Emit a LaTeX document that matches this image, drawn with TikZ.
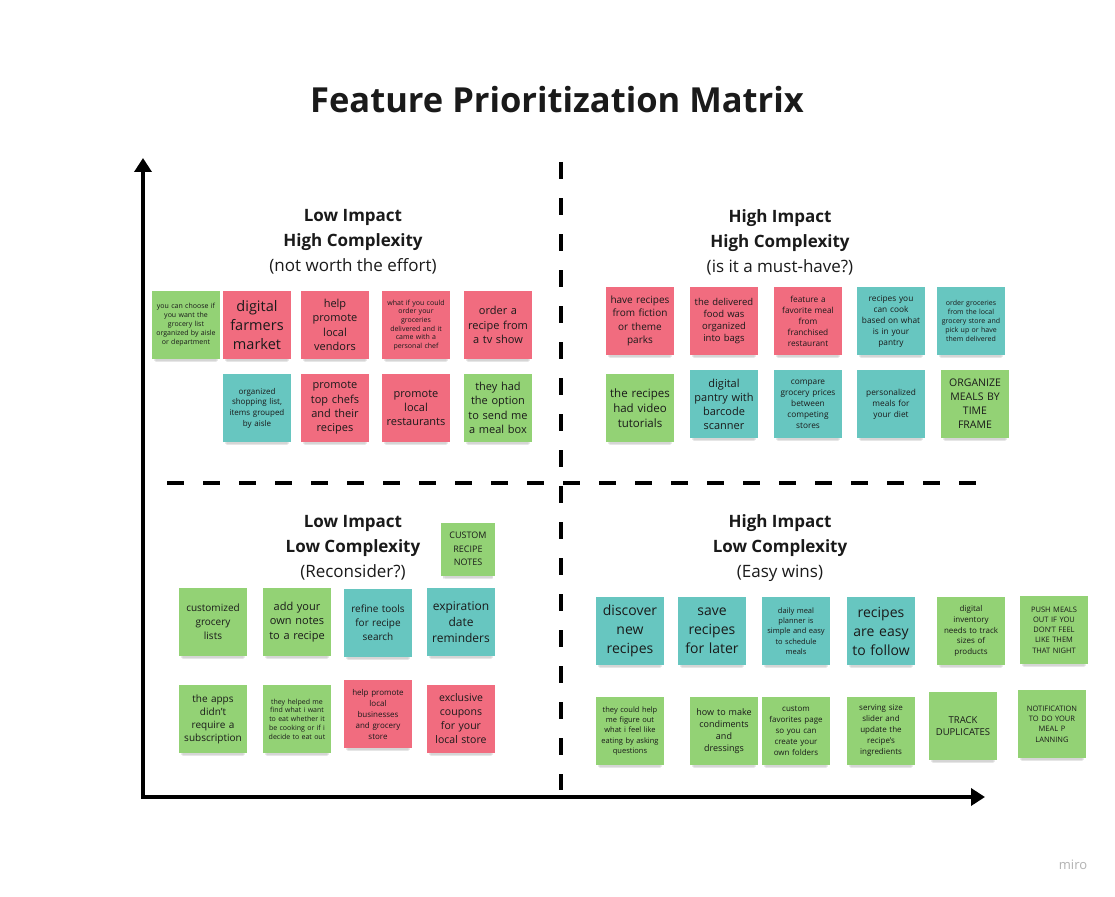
\documentclass[tikz,border=0pt]{standalone}
\usepackage{fontspec}
\setmainfont{Open Sans}
\usetikzlibrary{arrows.meta,shadows}
\definecolor{spink}{HTML}{F16C7F}
\definecolor{sgreen}{HTML}{93D275}
\definecolor{steal}{HTML}{67C6C0}
\definecolor{ink}{HTML}{1A1A1A}
\tikzset{
  f/.style args={#1/#2}{font=\fontsize{#1}{#2}\selectfont},
  note/.style={rectangle, minimum width=68pt, minimum height=68pt, inner sep=1pt,
    text width=66pt, align=center, text=ink,
    drop shadow={shadow xshift=0pt, shadow yshift=-4pt, shadow scale=0.94, opacity=0.16},
    drop shadow={shadow xshift=0pt, shadow yshift=-6.5pt, shadow scale=0.91, opacity=0.12},
    drop shadow={shadow xshift=0pt, shadow yshift=-8.5pt, shadow scale=0.87, opacity=0.08}},
  pk/.style={note, fill=spink},
  gr/.style={note, fill=sgreen},
  tl/.style={note, fill=steal},
  head/.style={font=\fontsize{17}{25}\selectfont, align=center, text=ink},
  axis/.style={line width=3.6pt, draw=black, -{Triangle[width=17pt,length=14pt]}},
  divider/.style={line width=4pt, draw=black, dash pattern=on 17pt off 19pt}
}
\begin{document}
\begin{tikzpicture}[x=1pt,y=-1pt]
\useasboundingbox (0,0) rectangle (1115,896);
\fill[white] (0,0) rectangle (1115,896);

% title
\node[font=\fontsize{34.5}{40}\selectfont\bfseries, text=ink] (title) at (557,100) {Feature Prioritization Matrix};

% axes and dividers
\coordinate (origin) at (141,797);
\coordinate (ytop) at (143,158);
\coordinate (xend) at (985,797);
\coordinate (vtop) at (561,162);
\coordinate (vbot) at (561,790);
\coordinate (hleft) at (167,483);
\coordinate (hright) at (980,483);
\draw[axis] ([xshift=2pt]origin) -- (ytop);
\draw[axis] (origin) -- (xend);
\draw[divider] (vtop) -- (vbot);
\draw[divider] (hleft) -- (hright);

% headers
\node[head] (h1) at (353,242) {\textbf{Low Impact}\\\textbf{High Complexity}\\(not worth the effort)};
\node[head] (h2) at (780,242) {\textbf{High Impact}\\\textbf{High Complexity}\\(is it a must-have?)};
\node[head] (h3) at (353,548) {\textbf{Low Impact}\\\textbf{Low Complexity}\\(Reconsider?)};
\node[head] (h4) at (780,548) {\textbf{High Impact}\\\textbf{Low Complexity}\\(Easy wins)};

% top-left
\node[gr, f=7/9] (n1) at (186,325) {you can choose if\\you want the\\grocery list\\organized by aisle\\or department};
\node[pk, f=14.5/19] (n2) at (257,325) {digital\\farmers\\market};
\node[pk, f=11/14.5] (n3) at (335,325) {help\\promote\\local\\vendors};
\node[pk, f=7/8.7] (n4) at (416,325) {what if you could\\order your\\groceries\\delivered and it\\came with a\\personal chef};
\node[pk, f=11/14.5] (n5) at (498,325) {order a\\recipe from\\a tv show};
\node[tl, f=8/10.7] (n6) at (257,408) {organized\\shopping list,\\items grouped\\by aisle};
\node[pk, f=11/14.3] (n7) at (335,408) {promote\\top chefs\\and their\\recipes};
\node[pk, f=11/14.3] (n8) at (416,408) {promote\\local\\restaurants};
\node[gr, f=11/14.3] (n9) at (498,408) {they had\\the option\\to send me\\a meal box};

% top-right
\node[pk, f=10/13.3] (m1) at (640,321) {have recipes\\from fiction\\or theme\\parks};
\node[pk, f=9.5/12.2] (m2) at (724,321) {the delivered\\food was\\organized\\into bags};
\node[pk, f=8.3/11] (m3) at (808,321) {feature a\\favorite meal\\from\\franchised\\restaurant};
\node[tl, f=8.3/11] (m4) at (891,321) {recipes you\\can cook\\based on what\\is in your\\pantry};
\node[tl, f=7/9] (m5) at (971,321) {order groceries\\from the local\\grocery store and\\pick up or have\\them delivered};
\node[gr, f=11.5/15] (m6) at (640,408) {the recipes\\had video\\tutorials};
\node[tl, f=11/14] (m7) at (724,404) {digital\\pantry with\\barcode\\scanner};
\node[tl, f=8.3/11] (m8) at (808,404) {compare\\grocery prices\\between\\competing\\stores};
\node[tl, f=8.3/11] (m9) at (891,404) {personalized\\meals for\\your diet};
\node[gr, f=10.5/14] (m10) at (975,404) {ORGANIZE\\MEALS BY\\TIME\\FRAME};

% bottom-left
\node[gr, f=9/13.5, minimum width=53pt, minimum height=53pt, text width=52pt] (c0) at (468,549) {CUSTOM\\RECIPE\\NOTES};
\node[gr, f=10/14] (c1) at (213,622) {customized\\grocery\\lists};
\node[gr, f=11/14.7] (c2) at (297,622) {add your\\own notes\\to a recipe};
\node[tl, f=10/14] (c3) at (378,623) {refine tools\\for recipe\\search};
\node[tl, f=12/16] (c4) at (461,622) {expiration\\date\\reminders};
\node[gr, f=10/13] (c5) at (213,719) {the apps\\didn't\\require a\\subscription};
\node[gr, f=7/8.8] (c6) at (297,719) {they helped me\\find what i want\\to eat whether it\\be cooking or if i\\decide to eat out};
\node[pk, f=8/11] (c7) at (378,714) {help promote\\local\\businesses\\and grocery\\store};
\node[pk, f=10.5/14] (c8) at (461,719) {exclusive\\coupons\\for your\\local store};

% bottom-right
\node[tl, f=14/19] (d1) at (630,631) {discover\\new\\recipes};
\node[tl, f=14/19] (d2) at (712,631) {save\\recipes\\for later};
\node[tl, f=7.5/10.3] (d3) at (796,631) {daily meal\\planner is\\simple and easy\\to schedule\\meals};
\node[tl, f=14/19] (d4) at (881,631) {recipes\\are easy\\to follow};
\node[gr, f=8/10.7] (d5) at (971,631) {digital\\inventory\\needs to track\\sizes of\\products};
\node[gr, f=7.5/10.3] (d6) at (1054,630) {PUSH MEALS\\OUT IF YOU\\DON'T FEEL\\LIKE THEM\\THAT NIGHT};
\node[gr, f=7.5/10.3] (d7) at (630,731) {they could help\\me figure out\\what i feel like\\eating by asking\\questions};
\node[gr, f=9/12] (d8) at (724,731) {how to make\\condiments\\and\\dressings};
\node[gr, f=8/11] (d9) at (796,731) {custom\\favorites page\\so you can\\create your\\own folders};
\node[gr, f=8/11] (d10) at (881,731) {serving size\\slider and\\update the\\recipe's\\ingredients};
\node[gr, f=9.5/12.7] (d11) at (963,726) {TRACK\\DUPLICATES};
\node[gr, f=7.5/10.3] (d12) at (1052,724) {NOTIFICATION\\TO DO YOUR\\MEAL P\\LANNING};

% logo
\node[font=\fontsize{13}{15}\selectfont, text=black!30] (logo) at (1073,865) {miro};
\end{tikzpicture}
\end{document}
